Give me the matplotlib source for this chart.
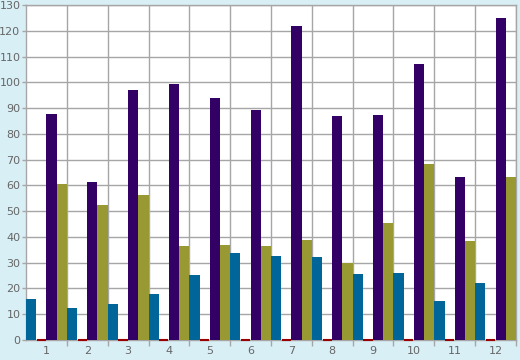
import matplotlib
matplotlib.use("Agg")
import matplotlib.pyplot as plt
import numpy as np

# data
months = ["1", "2", "3", "4", "5", "6", "7", "8", "9", "10", "11", "12"]
teal_vals = [15.9, 12.4, 14.0, 17.8, 25.2, 33.8, 32.6, 32.2, 25.6, 26.0, 15.1, 22.1]
red_vals = [0, 0, 0, 0, 0, 0, 0, 0, 0, 0, 0, 0]
purple_vals = [87.7, 61.3, 97.0, 99.3, 93.9, 89.3, 121.8, 86.9, 87.3, 107.1, 63.3, 125.0]
olive_vals = [60.5, 52.4, 56.3, 36.5, 36.9, 36.5, 38.8, 29.9, 45.4, 68.3, 38.4, 63.3]

bg = "#d9eff6"
grid_col = "#a6a6a6"
text_col = "#666666"

fig = plt.figure(figsize=(5.2, 3.6), dpi=100, facecolor=bg)
ax = fig.add_axes([26 / 520, 20 / 360, 490 / 520, 335 / 360])
ax.set_facecolor("white")

n = len(months)
x = np.arange(n)
w = 0.25

series = [
    (teal_vals, "#006699"),
    (red_vals, "#990000"),
    (purple_vals, "#330066"),
    (olive_vals, "#999933"),
]
for i, (vals, col) in enumerate(series):
    if i == 1:
        # zero series shows up as a thin red line on the baseline
        ax.bar(x + w * (i + 0.5), vals, width=w * 0.9, color=col, edgecolor=col,
               linewidth=1.5, zorder=4, clip_on=False)
    else:
        ax.bar(x + w * (i + 0.5), vals, width=w, color=col, linewidth=0, zorder=3)

ax.set_xlim(0, n)
ax.set_ylim(0, 130)

# gridlines at the group boundaries, labels at group centres
ax.set_xticks(np.arange(1, n + 1))
ax.set_xticklabels([])
ax.set_xticks(x + 0.5, minor=True)
ax.set_xticklabels(months, minor=True)
ax.tick_params(axis="x", which="major", length=4, color=grid_col, width=1)
ax.tick_params(axis="x", which="minor", length=0, pad=4, labelsize=8, labelcolor=text_col)

ax.set_yticks(np.arange(0, 131, 10))
ax.tick_params(axis="y", length=3, width=1, color=grid_col, pad=1, labelsize=8, labelcolor=text_col)

ax.grid(True, which="major", color=grid_col, linewidth=1, zorder=0)
ax.set_axisbelow(True)

for side in ["top", "right", "bottom", "left"]:
    ax.spines[side].set_color(grid_col)
    ax.spines[side].set_linewidth(1)

fig.savefig("out.png", dpi=100, facecolor=bg)
